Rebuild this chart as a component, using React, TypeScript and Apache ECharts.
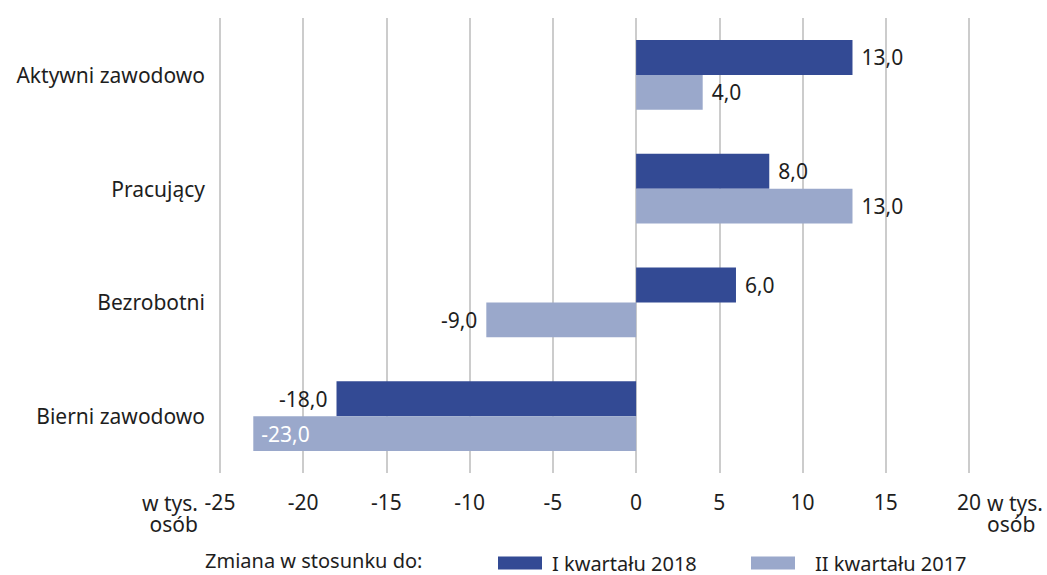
import React, { useEffect, useRef } from "react";
import * as echarts from "echarts";

const categories = ["Aktywni zawodowo", "Pracujący", "Bezrobotni", "Bierni zawodowo"];
const seriesNames = ["I kwartału 2018", "II kwartału 2017"];
const valuesQ1_2018 = [13.0, 8.0, 6.0, -18.0];
const valuesQ2_2017 = [4.0, 13.0, -9.0, -23.0];
const xMin = -25;
const xMax = 20;
const xStep = 5;
const unitLines = ["w tys.", "osób"];
const legendTitle = "Zmiana w stosunku do:";

const FONT = "Noto Sans";
const FS = 21;
const DARK = "#334a94";
const LIGHT = "#9aa8cb";
const TEXT = "#1e1e1e";

function fmt(v: number) {
  return v.toFixed(1).replace(".", ",");
}

function buildData(values: number[], insideMin: number | null) {
  return values.map((v) => {
    const inside = insideMin !== null && v <= insideMin;
    return {
      value: v,
      label: inside
        ? { position: "insideLeft", color: "#ffffff", distance: 8 }
        : { position: v < 0 ? "left" : "right", color: TEXT, distance: 9 },
    };
  });
}

function unitTexts(x: number, align: string) {
  return unitLines.map((t, i) => ({
    type: "text",
    x,
    y: 503 + i * 21,
    style: {
      text: t,
      fill: TEXT,
      fontSize: FS,
      fontFamily: FONT,
      align,
      verticalAlign: "middle",
    },
  }));
}

function legendItem(name: string, left: number, textGap: number) {
  return {
    data: [name],
    left,
    top: 553,
    padding: 0,
    itemWidth: 44,
    itemHeight: 13,
    itemGap: 0,
    icon: "rect",
    textStyle: {
      color: TEXT,
      fontSize: 20,
      fontFamily: FONT,
      lineHeight: 20,
      padding: [0, 0, 0, textGap],
    },
  };
}

export default function App() {
  const ref = useRef<HTMLDivElement>(null);
  useEffect(() => {
    if (!ref.current) return;
    document.body.style.margin = "0";
    const chart = echarts.init(ref.current, undefined, { renderer: "svg" });
    const labelCommon = {
      show: true,
      fontFamily: FONT,
      fontSize: FS,
      formatter: (p: any) => fmt(p.value),
    };
    chart.setOption({
      animation: false,
      textStyle: { fontFamily: FONT },
      grid: { left: 220, right: 78, top: 18, bottom: 102, containLabel: false },
      xAxis: {
        type: "value",
        min: xMin,
        max: xMax,
        interval: xStep,
        axisLine: { show: false },
        axisTick: { show: false },
        splitLine: { show: true, lineStyle: { color: "#cccccc", width: 2 } },
        axisLabel: { color: TEXT, fontSize: FS, fontFamily: FONT, margin: 18 },
      },
      yAxis: {
        type: "category",
        data: categories,
        inverse: true,
        axisLine: { show: false },
        axisTick: { show: false },
        axisLabel: { color: TEXT, fontSize: FS, fontFamily: FONT, margin: 15 },
      },
      legend: [legendItem(seriesNames[0], 498, 5), legendItem(seriesNames[1], 751, 15)],
      graphic: [
        {
          type: "text",
          x: 205,
          y: 560,
          style: {
            text: legendTitle,
            fill: TEXT,
            fontSize: 20,
            fontFamily: FONT,
            verticalAlign: "middle",
          },
        },
        ...unitTexts(198, "right"),
        ...unitTexts(987, "left"),
      ],
      series: [
        {
          name: seriesNames[0],
          type: "bar",
          data: buildData(valuesQ1_2018, null),
          itemStyle: { color: DARK },
          barGap: "0%",
          barCategoryGap: "38.5%",
          label: labelCommon,
        },
        {
          name: seriesNames[1],
          type: "bar",
          data: buildData(valuesQ2_2017, -20),
          itemStyle: { color: LIGHT },
          barGap: "0%",
          barCategoryGap: "38.5%",
          label: labelCommon,
        },
      ],
    });
    return () => chart.dispose();
  }, []);
  return <div ref={ref} style={{ width: 1047, height: 575 }} />;
}
